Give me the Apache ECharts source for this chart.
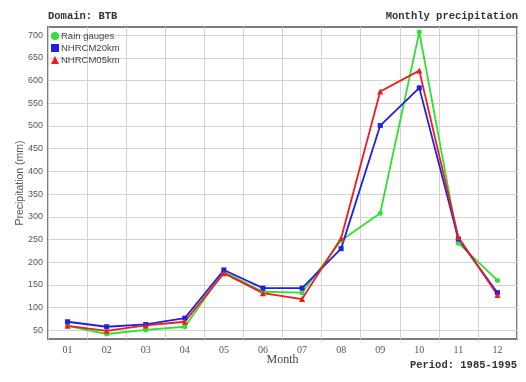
<!DOCTYPE html>
<html>
<head>
<meta charset="utf-8">
<script src="https://cdn.jsdelivr.net/npm/echarts@6/dist/echarts.min.js"></script>
<style>
  html, body { margin: 0; padding: 0; background: #fff; }
  #chart { width: 526px; height: 382px; }
</style>
</head>
<body>
<div id="chart"></div>
<script>
// Monthly precipitation over the BTB domain, 1985-1995
const months = ['01', '02', '03', '04', '05', '06', '07', '08', '09', '10', '11', '12'];
const rainGauges = [60, 42, 51, 58, 179, 135, 133, 248, 308, 707, 242, 160];
const nhrcm20km = [69, 58, 63, 77, 183, 143, 143, 230, 501, 584, 251, 133];
const nhrcm05km = [60, 49, 61, 69, 176, 132, 119, 253, 576, 622, 255, 128];
const yTicks = [50, 100, 150, 200, 250, 300, 350, 400, 450, 500, 550, 600, 650, 700];

const GREEN = '#2fe22f';
const BLUE = '#1f1fe8';
const RED = '#ee1c1c';

const monoFont = '"Liberation Mono", "DejaVu Sans Mono", monospace';
const sansFont = '"Liberation Sans", Arial, sans-serif';
const serifFont = '"Liberation Serif", "DejaVu Serif", serif';

const chart = echarts.init(document.getElementById('chart'));

function lineSeries(name, data, color, symbol, size) {
  return {
    name: name,
    type: 'line',
    data: data,
    symbol: symbol,
    symbolSize: size,
    showSymbol: true,
    itemStyle: { color: color },
    lineStyle: { color: color, width: 1.8 },
    emphasis: { disabled: true },
    animation: false
  };
}

chart.setOption({
  animation: false,
  grid: {
    left: 48, right: 9, top: 27, bottom: 43,
    outerBoundsMode: 'none',
    show: true,
    borderColor: '#7c7c7c',
    borderWidth: 2,
    backgroundColor: 'transparent'
  },
  legend: {
    left: 51, top: 31,
    orient: 'vertical',
    itemGap: 2,
    itemWidth: 8,
    itemHeight: 8,
    padding: 0,
    textStyle: { fontFamily: sansFont, fontSize: 9.5, color: '#444', padding: [0, 0, 0, -3] },
    data: [
      { name: 'Rain gauges', icon: 'circle' },
      { name: 'NHRCM20km', icon: 'rect' },
      { name: 'NHRCM05km', icon: 'triangle' }
    ]
  },
  xAxis: {
    type: 'category',
    data: months,
    boundaryGap: true,
    name: 'Month',
    nameLocation: 'middle',
    nameGap: 15,
    nameMoveOverlap: false,
    nameTextStyle: { fontFamily: serifFont, fontSize: 12, color: '#444' },
    axisLine: { show: false },
    axisTick: { show: false },
    axisLabel: { fontFamily: serifFont, fontSize: 10, color: '#555', margin: 6 },
    splitLine: { show: true, interval: 0, lineStyle: { color: '#d2d2d2', width: 1 } }
  },
  yAxis: {
    type: 'value',
    min: 31,
    max: 718,
    name: 'Precipitation (mm)',
    nameLocation: 'middle',
    nameGap: 22,
    nameMoveOverlap: false,
    nameTextStyle: { fontFamily: sansFont, fontSize: 10.5, color: '#555' },
    axisLine: { show: false },
    axisTick: { show: false, customValues: yTicks },
    axisLabel: { customValues: yTicks, fontFamily: sansFont, fontSize: 9, color: '#555', margin: 5 },
    splitLine: { show: true, lineStyle: { color: '#d2d2d2', width: 1 } }
  },
  graphic: [
    {
      type: 'text', left: 48, top: 11,
      style: { text: 'Domain: BTB', font: 'bold 10.5px ' + monoFont, fill: '#333' }
    },
    {
      type: 'text', right: 8, top: 11,
      style: { text: 'Monthly precipitation', font: 'bold 10.5px ' + monoFont, fill: '#333' }
    },
    {
      type: 'text', right: 9, top: 360,
      style: { text: 'Period: 1985-1995', font: 'bold 10.5px ' + monoFont, fill: '#333' }
    }
  ],
  series: [
    lineSeries('Rain gauges', rainGauges, GREEN, 'circle', 5),
    lineSeries('NHRCM20km', nhrcm20km, BLUE, 'rect', 5),
    lineSeries('NHRCM05km', nhrcm05km, RED, 'triangle', 6)
  ]
});
</script>
</body>
</html>
